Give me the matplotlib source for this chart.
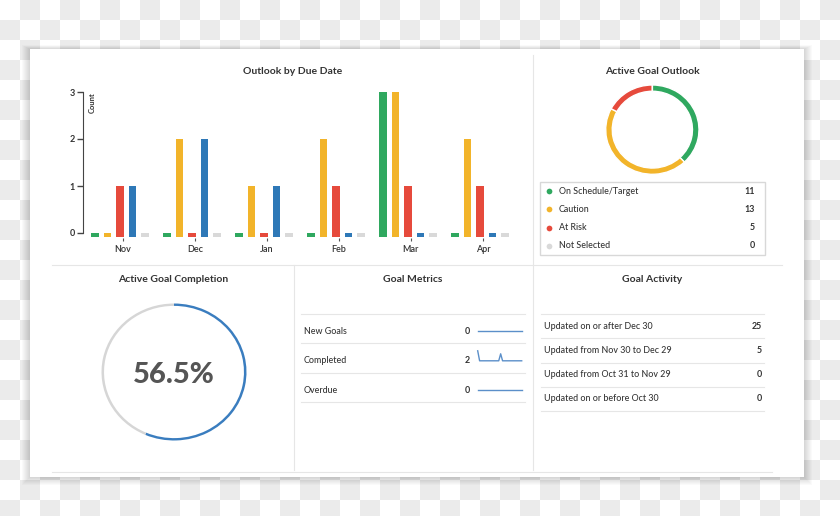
import numpy as np
import matplotlib
matplotlib.use('Agg')
import matplotlib.pyplot as plt
from matplotlib.patches import Rectangle
from matplotlib.colors import ListedColormap

plt.rcParams['font.family'] = ['Lato', 'DejaVu Sans']

# ---- data ----
months = ['Nov', 'Dec', 'Jan', 'Feb', 'Mar', 'Apr']
on_schedule = [0, 0, 0, 0, 3, 0]
caution = [0, 2, 1, 2, 3, 2]
at_risk = [1, 0, 0, 1, 1, 1]
completed = [1, 2, 1, 0, 0, 0]
not_selected = [0, 0, 0, 0, 0, 0]

outlook_labels = ['On Schedule/Target', 'Caution', 'At Risk', 'Not Selected']
outlook_counts = [11, 13, 5, 0]

completion_pct = 56.5

metric_labels = ['New Goals', 'Completed', 'Overdue']
metric_values = [0, 2, 0]
spark_new = [0, 0, 0, 0, 0, 0, 0, 0, 0, 0, 0, 0, 0, 0, 0, 0, 0, 0, 0, 0, 0, 0, 0, 0]
spark_completed = [2, 0, 0, 0, 0, 0, 0, 0, 0, 0, 0, 0, 1.4, 0, 0, 0, 0, 0, 0, 0, 0, 0, 0, 0]
spark_overdue = [0, 0, 0, 0, 0, 0, 0, 0, 0, 0, 0, 0, 0, 0, 0, 0, 0, 0, 0, 0, 0, 0, 0, 0]

activity_labels = ['Updated on or after Dec 30', 'Updated from Nov 30 to Dec 29',
                   'Updated from Oct 31 to Nov 29', 'Updated on or before Oct 30']
activity_values = [25, 5, 0, 0]

GREEN, YELLOW, RED, BLUE, GREY = '#2fa85f', '#f2b42a', '#e64a3c', '#2e78b7', '#d9d9d9'
TXT = '#333333'
LINE = '#e6e6e6'
ROW_FS = 6.4

W, H = 840, 516
fig = plt.figure(figsize=(8.4, 5.16), dpi=100)


def px_axes(x0, y0, x1, y1):
    ax = fig.add_axes([x0 / W, 1 - y1 / H, (x1 - x0) / W, (y1 - y0) / H])
    ax.patch.set_alpha(0)
    return ax


# background: checkerboard, shadow, white panel
bg = fig.add_axes([0, 0, 1, 1])
yy, xx = np.mgrid[0:H, 0:W]
bg.imshow((xx // 20 + yy // 20) % 2, cmap=ListedColormap(['#ffffff', '#ebebeb']),
          extent=(0, W, H, 0), interpolation='nearest', aspect='auto')
bg.set_xlim(0, W)
bg.set_ylim(H, 0)
bg.axis('off')
for k in range(1, 9):
    bg.add_patch(Rectangle((30 - k, 49 - 0.5 * k), 774 + 2 * k, 428 + 1.5 * k,
                           fc='black', alpha=0.02, lw=0))
bg.add_patch(Rectangle((30, 49), 774, 428, fc='white', lw=0))

# dividers
bg.plot([533, 533], [55, 470], color=LINE, lw=0.8)
bg.plot([52, 782], [265, 265], color=LINE, lw=0.8)
bg.plot([294, 294], [265, 470], color=LINE, lw=0.8)
bg.plot([52, 772], [472, 472], color=LINE, lw=0.8)

# titles
title_kw = dict(ha='center', va='center', fontsize=7.5, fontweight='bold', color=TXT)
bg.text(293, 71, 'Outlook by Due Date', **title_kw)
bg.text(652, 71, 'Active Goal Outlook', **title_kw)
bg.text(173, 280, 'Active Goal Completion', **title_kw)
bg.text(413, 280, 'Goal Metrics', **title_kw)
bg.text(652, 280, 'Goal Activity', **title_kw)

# ---- bar chart ----
ax = px_axes(83, 92, 525, 237.7)
stub = 0.085
series = [(on_schedule, GREEN), (caution, YELLOW), (at_risk, RED),
          (completed, BLUE), (not_selected, GREY)]
x = np.arange(len(months))
for j, (vals, col) in enumerate(series):
    ax.bar(x + (j - 2) * 0.174, np.array(vals) + stub, bottom=-stub, width=0.11,
           color=col, lw=0, clip_on=False)
ax.set_xlim(-0.514, 5.625)
ax.set_ylim(-0.1, 3)
for s in ['top', 'right', 'bottom']:
    ax.spines[s].set_visible(False)
ax.spines['left'].set_bounds(0, 3)
ax.spines['left'].set_color('#444444')
ax.set_yticks([0, 1, 2, 3])
ax.tick_params(axis='y', length=4, width=1, color='#444444', labelsize=6.5,
               labelcolor=TXT, pad=2)
for lbl in ax.get_yticklabels():
    lbl.set_fontweight('bold')
ax.set_xticks(x + 0.04)
ax.set_xticklabels(months)
ax.tick_params(axis='x', length=2.5, width=0.8, color='#555555', labelsize=6.5,
               labelcolor=TXT, pad=3)
for lbl in ax.get_xticklabels():
    lbl.set_fontweight('semibold')
ax.text(0.02, 1.0, 'Count', transform=ax.transAxes, rotation=90, ha='center',
        va='top', fontsize=5.5, fontweight='bold', color=TXT)

# ---- outlook donut ----
ax2 = px_axes(605.7, 85, 699, 174.3)
ax2.pie(outlook_counts, colors=[GREEN, YELLOW, RED, GREY], startangle=90,
        counterclock=False, radius=1,
        wedgeprops=dict(width=0.14, edgecolor='white', linewidth=1))
ax2.set_xlim(-1, 1)
ax2.set_ylim(-1, 1)
ax2.set_aspect('auto')

bg.add_patch(Rectangle((540, 182), 225, 73, fill=False, ec='#d8d8d8', lw=1))
for k, (lab, val, col) in enumerate(zip(outlook_labels, outlook_counts,
                                        [GREEN, YELLOW, RED, GREY])):
    yc = 182 + (k + 0.5) * 18.25
    bg.scatter([548.5], [yc], s=17, color=col, lw=0)
    bg.text(559, yc, lab, ha='left', va='center', fontsize=ROW_FS,
            fontweight='medium', color=TXT)
    bg.text(755, yc, str(val), ha='right', va='center', fontsize=ROW_FS,
            fontweight='bold', color=TXT)

# ---- completion ring ----
ax3 = px_axes(101.5, 303.5, 246.5, 440.5)
ax3.pie([completion_pct, 100 - completion_pct], colors=['#3a7dbf', '#d6d6d6'],
        startangle=90, counterclock=False, radius=1,
        wedgeprops=dict(width=0.035, linewidth=0))
ax3.set_xlim(-1, 1)
ax3.set_ylim(-1, 1)
ax3.set_aspect('auto')
ax3.text(0, -0.05, f'{completion_pct}%', ha='center', va='center', fontsize=21,
         fontweight='black', color='#555555')

# ---- goal metrics ----
m_seps = [314.3, 343.3, 373.3, 402.3]
for ys in m_seps:
    bg.plot([301, 525], [ys, ys], color=LINE, lw=0.8)
sparks = [spark_new, spark_completed, spark_overdue]
for k, (lab, val, sp) in enumerate(zip(metric_labels, metric_values, sparks)):
    tc = (m_seps[k] + m_seps[k + 1]) / 2 + 2.5
    bg.text(304, tc, lab, ha='left', va='center', fontsize=ROW_FS,
            fontweight='medium', color=TXT)
    bg.text(470, tc, str(val), ha='right', va='center', fontsize=ROW_FS,
            fontweight='bold', color=TXT)
    sa = px_axes(477.7, tc - 10, 521.7, tc)
    sa.plot(range(len(sp)), sp, color='#5b8fc9', lw=1, clip_on=False)
    sa.set_xlim(0, len(sp) - 1)
    sa.set_ylim(0, 2)
    sa.axis('off')

# ---- goal activity ----
a_seps = [314.3, 338.3, 362.7, 386.7, 411]
for ys in a_seps:
    bg.plot([541, 764], [ys, ys], color=LINE, lw=0.8)
for k, (lab, val) in enumerate(zip(activity_labels, activity_values)):
    tc = (a_seps[k] + a_seps[k + 1]) / 2
    bg.text(544, tc, lab, ha='left', va='center', fontsize=ROW_FS,
            fontweight='medium', color=TXT)
    bg.text(762, tc, str(val), ha='right', va='center', fontsize=ROW_FS,
            fontweight='bold', color=TXT)

fig.savefig('out.png', dpi=100)
